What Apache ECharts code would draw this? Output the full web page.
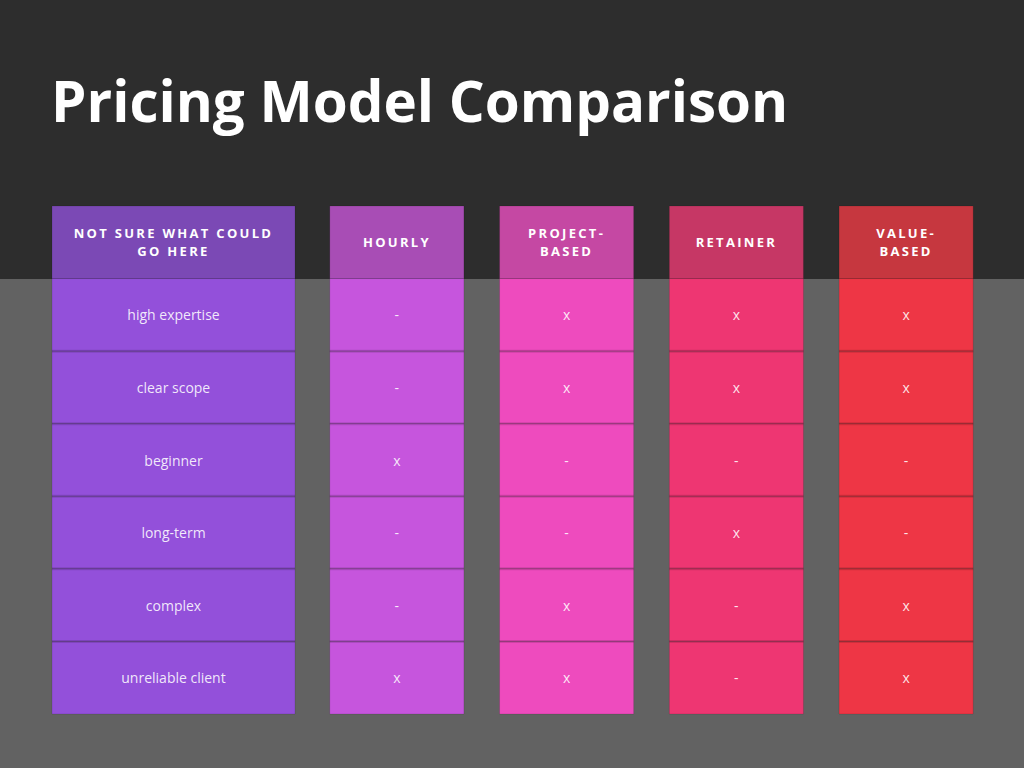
<!DOCTYPE html>
<html>
<head>
<meta charset="utf-8">
<title>Pricing Model Comparison</title>
<script src="https://cdn.jsdelivr.net/npm/echarts@6/dist/echarts.min.js"></script>
<style>
    html, body { margin: 0; padding: 0; background: #626262; }
    #main { width: 1024px; height: 768px; }
    /* spaced-out capitals for the column headers */
    #main text[style*="bold"][style*="13px"] { letter-spacing: 2.3px; }
</style>
</head>
<body>
<div id="main"></div>
<script>
    // column headers
    const columnNames = ['NOT SURE WHAT COULD\nGO HERE', 'HOURLY', 'PROJECT-\nBASED', 'RETAINER', 'VALUE-\nBASED'];
    // row labels
    const criteria = ['high expertise', 'clear scope', 'beginner', 'long-term', 'complex', 'unreliable client'];
    // marks per pricing model
    const hourly = ['-', '-', 'x', '-', '-', 'x'];
    const projectBased = ['x', 'x', '-', '-', 'x', 'x'];
    const retainer = ['x', 'x', '-', 'x', '-', '-'];
    const valueBased = ['x', 'x', '-', '-', 'x', 'x'];

    const headerColors = ['#7B49B5', '#A84DB5', '#C548A3', '#C63765', '#C6373F'];
    const bodyColors = ['#9350DA', '#C655DD', '#EE4BBE', '#EE3672', '#EE3645'];

    const columnValues = [criteria, hourly, projectBased, retainer, valueBased];
    const rowNames = ['header'].concat(criteria);

    let dom = document.getElementById('main');
    let chart = echarts.init(dom, null, { renderer: 'svg' });

    // cells of column colIndex: header + one per criterion
    function cellData(colIndex, xIndex) {
        let out = [];
        for (let r = 0; r < rowNames.length; r++) {
            out.push([xIndex, r, colIndex]);
        }
        return out;
    }

    function renderCell(params, api) {
        let row = api.value(1);
        let col = api.value(2);
        let center = api.coord([api.value(0), row]);
        let band = api.size([0, 1]);
        let w = col === 0 ? band[0] : band[0] * 0.79;
        let h = band[1];
        let x = center[0] - w / 2;
        let y = center[1] - h / 2;
        let isHeader = row === 0;
        let text = isHeader ? columnNames[col] : columnValues[col][row - 1];
        let children = [{
            type: 'rect',
            shape: { x: x, y: y, width: w, height: h },
            style: { fill: isHeader ? headerColors[col] : bodyColors[col], stroke: 'rgba(0,0,0,0.12)', lineWidth: 1 }
        }];
        if (row > 1) {//divider between rows
            children.push({
                type: 'rect',
                shape: { x: x, y: y - 1.5, width: w, height: 3 },
                style: { fill: 'rgba(0,0,0,0.13)' }
            });
        }
        children.push({
            type: 'text',
            style: {
                text: text,
                x: center[0],
                y: center[1],
                align: 'center',
                verticalAlign: 'middle',
                fontFamily: 'Open Sans',
                fontSize: isHeader ? 13 : 14,
                fontWeight: isHeader ? 'bold' : 'normal',
                lineHeight: 18,
                fill: isHeader ? '#ffffff' : 'rgba(255,255,255,0.88)'
            }
        });
        return { type: 'group', children: children };
    }

    let hiddenY = function (gridIndex) {
        return {
            type: 'category',
            gridIndex: gridIndex,
            data: rowNames,
            inverse: true,
            show: false
        };
    };

    let option = {
        backgroundColor: '#626262',
        animation: false,
        title: {
            text: 'Pricing Model Comparison',
            left: 46,
            top: 67,
            textStyle: {
                color: '#ffffff',
                fontFamily: 'Open Sans',
                fontWeight: 'bold',
                fontSize: 56.5
            }
        },
        graphic: [{
            type: 'rect',
            z: -10,
            shape: { x: 0, y: 0, width: 1024, height: 279 },
            style: { fill: '#2D2D2D' }
        }],
        grid: [
            { left: 52, width: 243, top: 206, bottom: 54 },
            { left: 312, width: 679, top: 206, bottom: 54 }
        ],
        xAxis: [
            { type: 'category', gridIndex: 0, data: columnNames.slice(0, 1), show: false },
            { type: 'category', gridIndex: 1, data: columnNames.slice(1), show: false }
        ],
        yAxis: [hiddenY(0), hiddenY(1)],
        series: [{
            type: 'custom',
            xAxisIndex: 0,
            yAxisIndex: 0,
            renderItem: renderCell,
            data: cellData(0, 0)
        }, {
            type: 'custom',
            xAxisIndex: 1,
            yAxisIndex: 1,
            renderItem: renderCell,
            data: cellData(1, 0).concat(cellData(2, 1), cellData(3, 2), cellData(4, 3))
        }]
    };

    chart.setOption(option);
    window.addEventListener('resize', function () {
        chart.resize();
    });
</script>
</body>
</html>
